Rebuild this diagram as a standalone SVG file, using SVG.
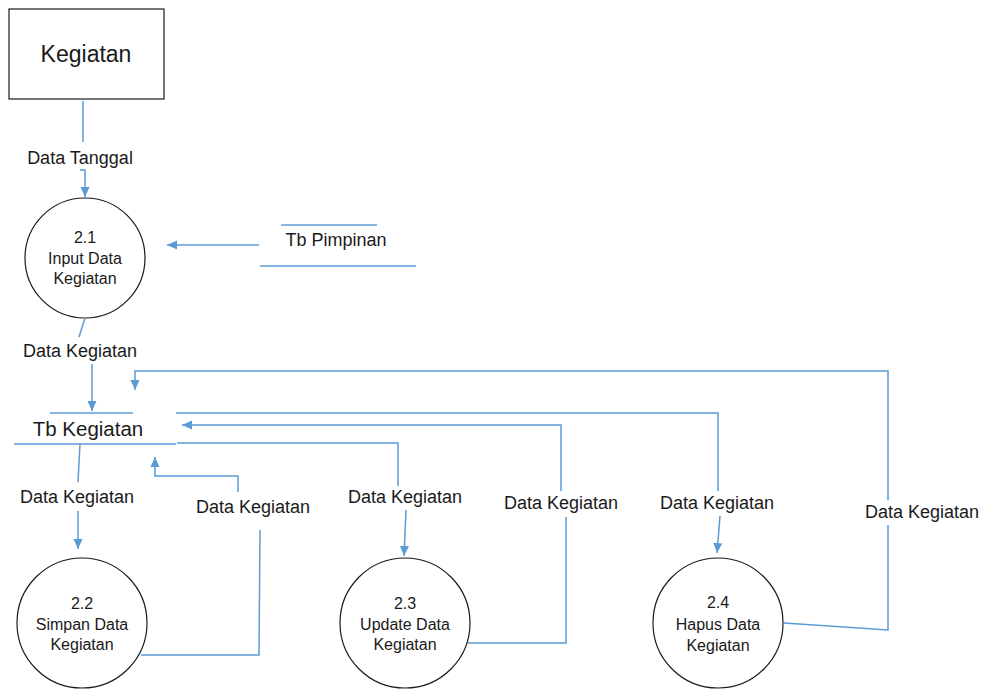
<svg xmlns="http://www.w3.org/2000/svg" width="986" height="689" viewBox="0 0 986 689">
  <style>
    text { font-family: "Liberation Sans", Arial, sans-serif; fill: #1a1a1a; text-anchor: middle; }
    .proc { fill: #ffffff; stroke: #1a1a1a; stroke-width: 1.2; }
    .ent { fill: #ffffff; stroke: #1a1a1a; stroke-width: 1.2; }
    .store { stroke: #5b9bd5; stroke-width: 1.5; fill: none; }
    .flow { stroke: #5b9bd5; stroke-width: 1.5; fill: none; }
    .lbl { font-size: 18px; }
    .ptxt { font-size: 16px; }
  </style>
  <defs>
    <marker id="arrow" markerUnits="userSpaceOnUse" markerWidth="11" markerHeight="10" refX="10" refY="5" orient="auto">
      <path d="M0,0.5 L10,5 L0,9.5 z" fill="#5b9bd5"/>
    </marker>
  </defs>

  <!-- external entity -->
  <g id="kegiatan">
    <rect class="ent" x="9" y="9" width="155" height="90"/>
    <text x="86" y="62" style="font-size:23px">Kegiatan</text>
  </g>

  <!-- processes -->
  <g id="p2-1">
    <circle class="proc" cx="85" cy="258" r="60"/>
    <text class="ptxt" x="85" y="243">2.1</text>
    <text class="ptxt" x="85" y="264">Input Data</text>
    <text class="ptxt" x="85" y="284">Kegiatan</text>
  </g>
  <g id="p2-2">
    <circle class="proc" cx="82" cy="623" r="65"/>
    <text class="ptxt" x="82" y="609">2.2</text>
    <text class="ptxt" x="82" y="630">Simpan Data</text>
    <text class="ptxt" x="82" y="650">Kegiatan</text>
  </g>
  <g id="p2-3">
    <circle class="proc" cx="405" cy="623" r="65"/>
    <text class="ptxt" x="405" y="609">2.3</text>
    <text class="ptxt" x="405" y="630">Update Data</text>
    <text class="ptxt" x="405" y="650">Kegiatan</text>
  </g>
  <g id="p2-4">
    <circle class="proc" cx="718" cy="623" r="65"/>
    <text class="ptxt" x="718" y="608">2.4</text>
    <text class="ptxt" x="718" y="630">Hapus Data</text>
    <text class="ptxt" x="718" y="651">Kegiatan</text>
  </g>

  <!-- data stores -->
  <g id="tb-pimpinan">
    <line class="store" x1="281" y1="225" x2="377" y2="225"/>
    <line class="store" x1="260" y1="266" x2="416" y2="266"/>
    <text x="336" y="246" style="font-size:18px">Tb Pimpinan</text>
  </g>
  <g id="tb-kegiatan">
    <line class="store" x1="50" y1="413" x2="133" y2="413"/>
    <line class="store" x1="14" y1="444" x2="176" y2="444"/>
    <text x="88" y="436" style="font-size:20.5px">Tb Kegiatan</text>
  </g>

  <!-- data flows -->
  <g id="connectors">
    <path class="flow" d="M83,101 V142"/>
    <path class="flow" d="M80,170 H85 V197" marker-end="url(#arrow)"/>
    <text class="lbl" x="80" y="164">Data Tanggal</text>

    <path class="flow" d="M259,245 H167" marker-end="url(#arrow)"/>

    <path class="flow" d="M85,318 L79,337"/>
    <path class="flow" d="M92,364 V411" marker-end="url(#arrow)"/>
    <text class="lbl" x="80" y="357">Data Kegiatan</text>

    <path class="flow" d="M80,444 L78,482"/>
    <path class="flow" d="M78,511 V549" marker-end="url(#arrow)"/>
    <text class="lbl" x="77" y="503">Data Kegiatan</text>

    <path class="flow" d="M141,655 H259 L260,530"/>
    <path class="flow" d="M238,492 V476 H155 V457" marker-end="url(#arrow)"/>
    <text class="lbl" x="253" y="513">Data Kegiatan</text>

    <path class="flow" d="M177,443 H398 V486"/>
    <path class="flow" d="M406,510 L404,556" marker-end="url(#arrow)"/>
    <text class="lbl" x="405" y="503">Data Kegiatan</text>

    <path class="flow" d="M468,643 H566 V517"/>
    <path class="flow" d="M561,491 V425 H182" marker-end="url(#arrow)"/>
    <text class="lbl" x="561" y="509">Data Kegiatan</text>

    <path class="flow" d="M176,413 H718 V491"/>
    <path class="flow" d="M720,516 L717,553" marker-end="url(#arrow)"/>
    <text class="lbl" x="717" y="509">Data Kegiatan</text>

    <path class="flow" d="M784,623 L888,630 V525"/>
    <path class="flow" d="M888,500 V371 H135 V390" marker-end="url(#arrow)"/>
    <text class="lbl" x="922" y="518">Data Kegiatan</text>
  </g>
</svg>
